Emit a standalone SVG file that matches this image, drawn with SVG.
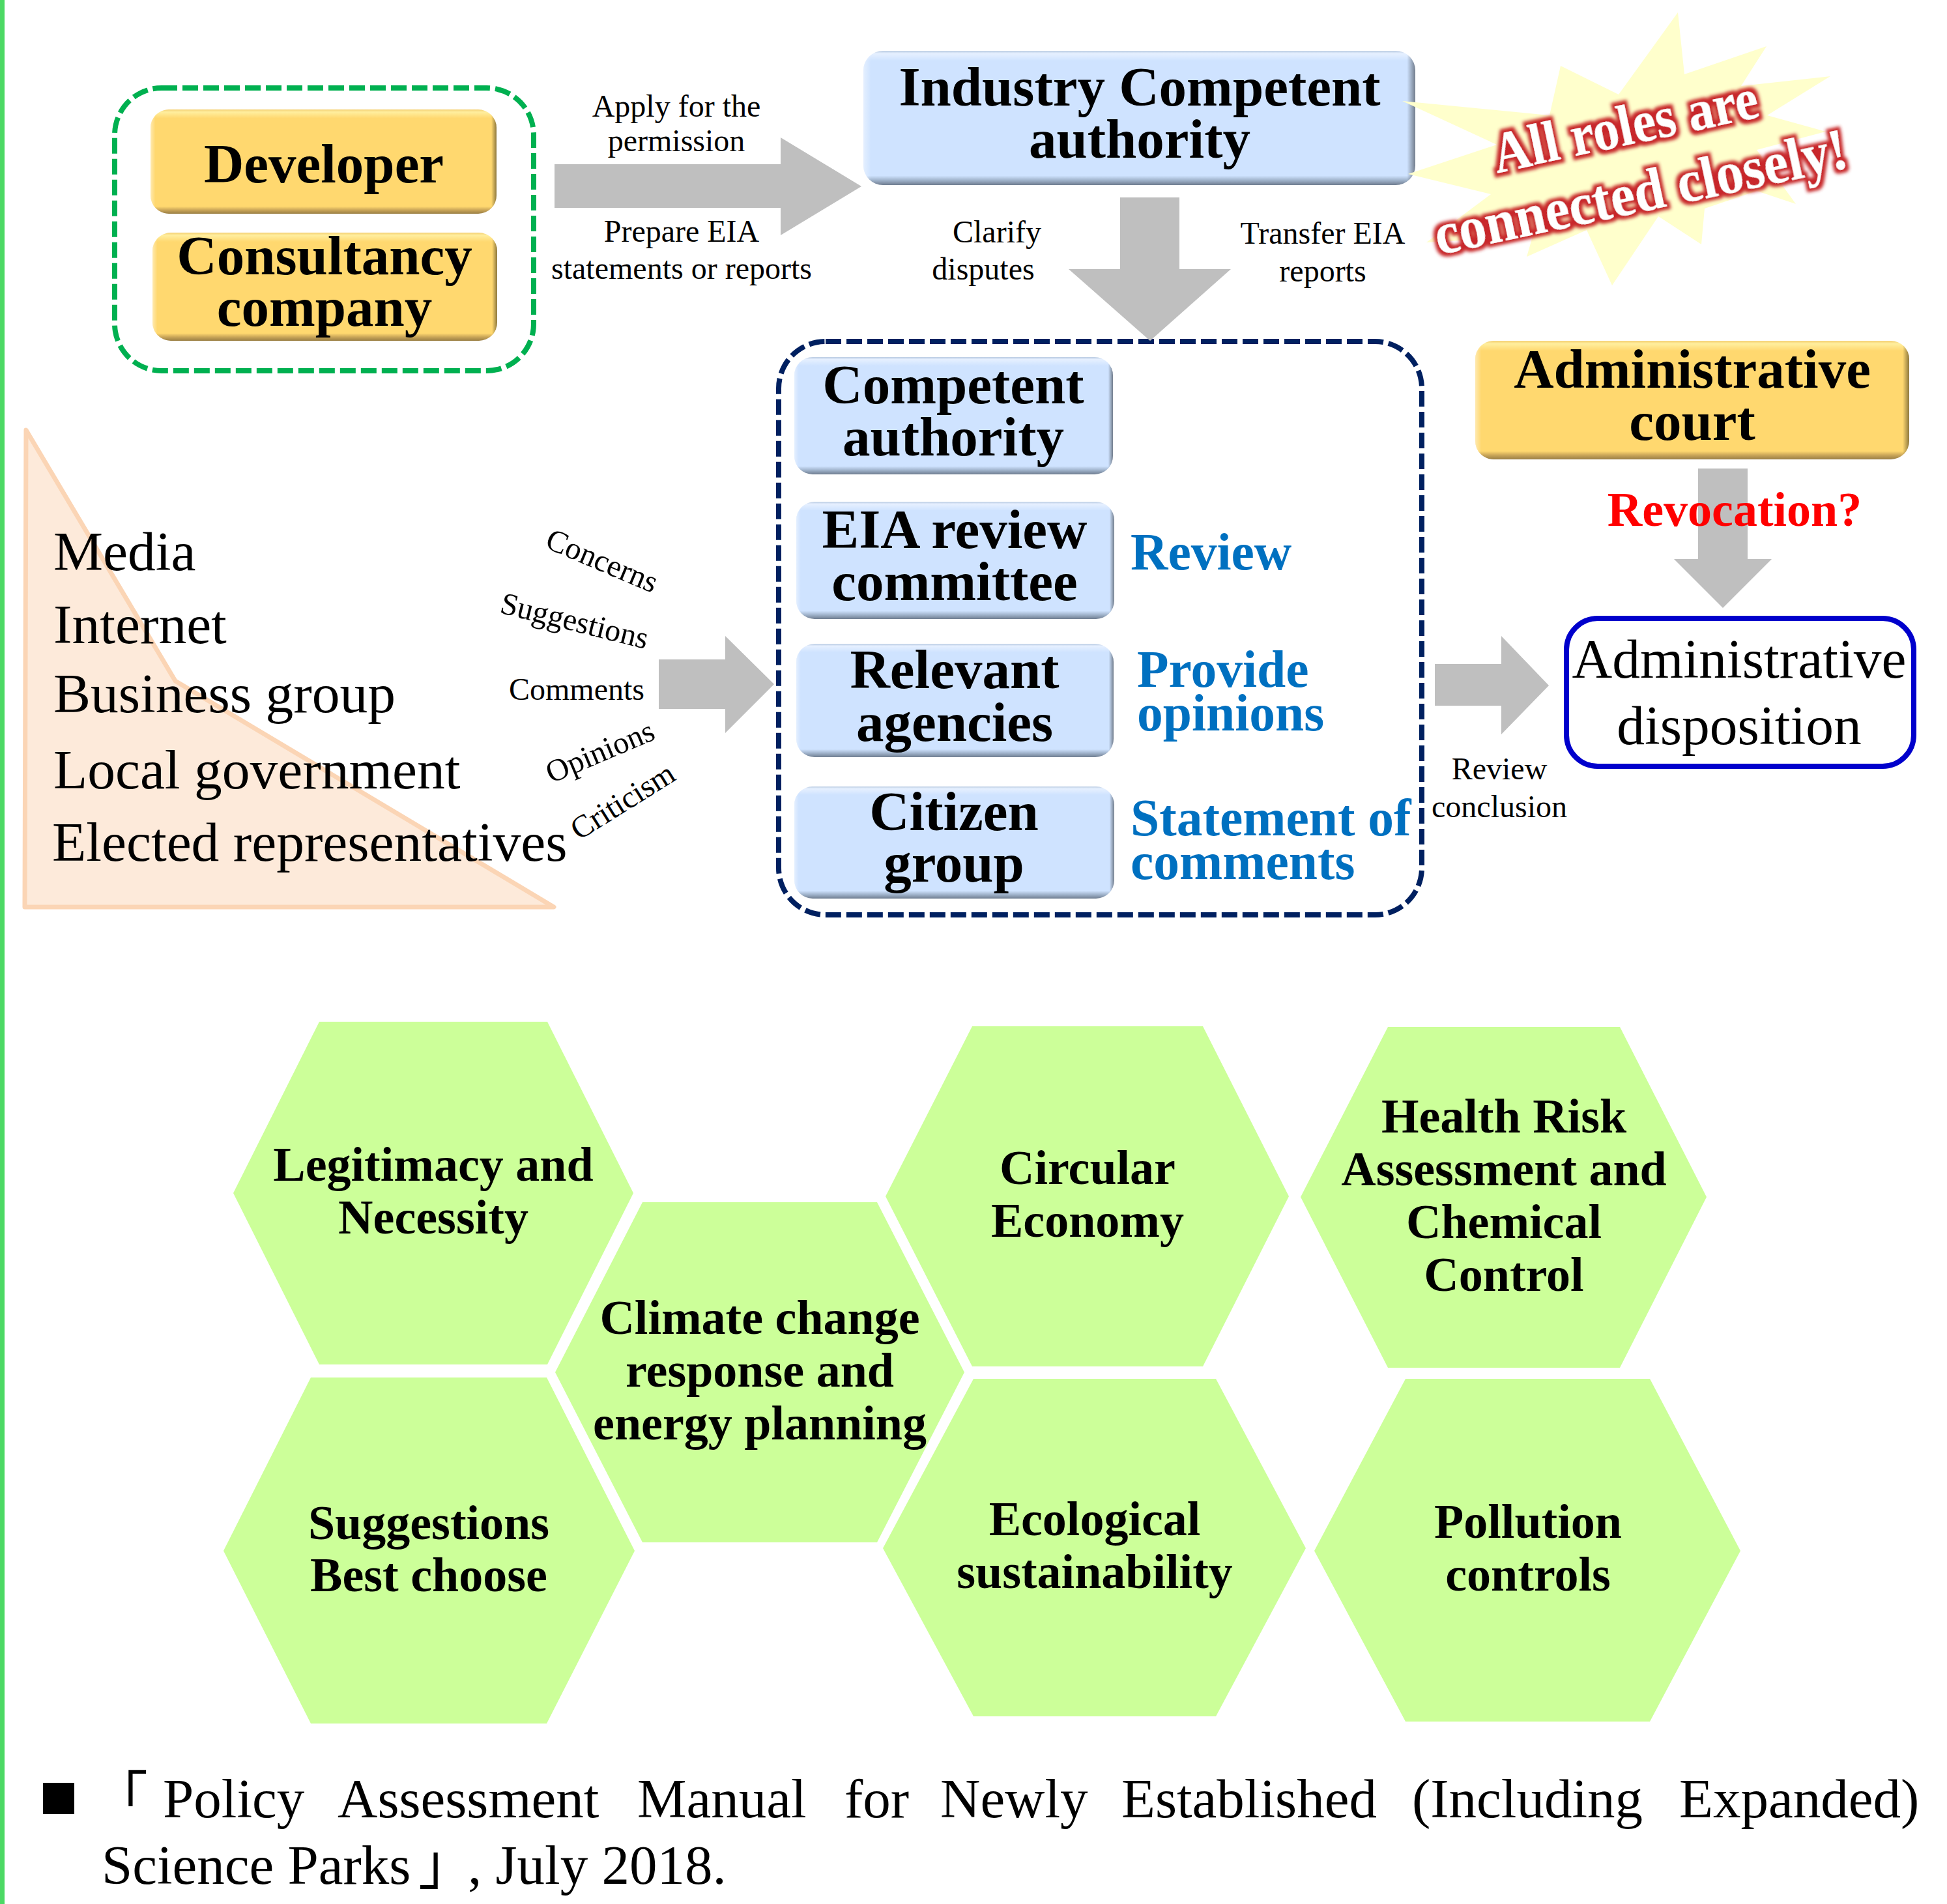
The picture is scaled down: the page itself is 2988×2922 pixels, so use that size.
<svg xmlns="http://www.w3.org/2000/svg" width="2988" height="2922" viewBox="0 0 2988 2922">
<style>
text{font-family:"Liberation Serif","Noto Sans CJK SC",serif;fill:#000}
.b{font-weight:700;font-size:85px;text-anchor:middle}
.hx{font-weight:700;font-size:74px;text-anchor:middle}
.s{font-size:48px;text-anchor:middle}
.m{font-size:85.5px}
.o{font-weight:700;font-size:79.5px;fill:#0070c0}
.arrow{fill:#bfbfbf}
.hex{fill:#ccff99}
.blue{fill:url(#gb)}
.gold{fill:url(#gg)}
.edge{fill:url(#ge)}
</style>
<defs>
<linearGradient id="gb" x1="0" y1="0" x2="0" y2="1">
<stop offset="0" stop-color="#b9cbe2"/><stop offset=".02" stop-color="#e6f0ff"/><stop offset=".075" stop-color="#cfe3ff"/><stop offset=".93" stop-color="#cfe3ff"/><stop offset=".965" stop-color="#9fb2ca"/><stop offset="1" stop-color="#6f7d90"/>
</linearGradient>
<linearGradient id="gg" x1="0" y1="0" x2="0" y2="1">
<stop offset="0" stop-color="#f4cf72"/><stop offset=".025" stop-color="#ffee9e"/><stop offset=".085" stop-color="#ffd86f"/><stop offset=".93" stop-color="#ffd86f"/><stop offset=".965" stop-color="#c9a558"/><stop offset="1" stop-color="#9a7f45"/>
</linearGradient>
<linearGradient id="ge" x1="0" y1="0" x2="1" y2="0">
<stop offset="0" stop-color="#fff" stop-opacity=".45"/><stop offset=".014" stop-color="#fff" stop-opacity="0"/><stop offset=".985" stop-color="#000" stop-opacity="0"/><stop offset="1" stop-color="#000" stop-opacity=".45"/>
</linearGradient>
<filter id="glow" x="-10%" y="-40%" width="120%" height="180%">
<feMorphology in="SourceAlpha" operator="dilate" radius="5" result="d"/>
<feGaussianBlur in="d" stdDeviation="2.5" result="bl"/>
<feFlood flood-color="#c8282a"/>
<feComposite in2="bl" operator="in" result="r"/>
<feMerge><feMergeNode in="r"/><feMergeNode in="SourceGraphic"/></feMerge>
</filter>
</defs>
<rect width="2988" height="2922" fill="#fff"/>
<rect x="0" y="0" width="7" height="2922" fill="#4cd964"/>

<g id="triangle-group">
<polygon points="40,660 269,1045 850,1392 38,1392" fill="#fdeada" stroke="#fbd5b5" stroke-width="7" stroke-linejoin="round"/>
<text class="m" x="82" y="875">Media</text>
<text class="m" x="82" y="987">Internet</text>
<text class="m" x="82" y="1093">Business group</text>
<text class="m" x="82" y="1210">Local government</text>
<text class="m" x="80" y="1321">Elected representatives</text>
</g>

<g id="feedback-labels">
<text class="s" transform="translate(918,875) rotate(23)">Concerns</text>
<text class="s" transform="translate(878,968) rotate(14)">Suggestions</text>
<text class="s" x="885" y="1074">Comments</text>
<text class="s" transform="translate(927,1168) rotate(-23)">Opinions</text>
<text class="s" transform="translate(964,1243) rotate(-32)">Criticism</text>
</g>

<g id="group-developer">
<rect x="176" y="135" width="643" height="434" rx="72" fill="none" stroke="#00b050" stroke-width="8" stroke-dasharray="24 8"/>
</g>
<g id="group-review">
<rect x="1195" y="524" width="987" height="880" rx="72" fill="none" stroke="#002060" stroke-width="8" stroke-dasharray="24 8"/>
</g>

<g id="connectors">
<polygon class="arrow" points="851,252 1198,252 1198,211 1322,286 1198,361 1198,319 851,319"/>
<polygon class="arrow" points="1719,303 1810,303 1810,413 1889,413 1765,523 1640,413 1719,413"/>
<polygon class="arrow" points="1011,1012 1113,1012 1113,976 1188,1050 1113,1125 1113,1088 1011,1088"/>
<polygon class="arrow" points="2202,1019 2304,1019 2304,976 2377,1052 2304,1127 2304,1083 2202,1083"/>
<polygon class="arrow" points="2606,719 2682,719 2682,858 2719,858 2644,933 2569,858 2606,858"/>
</g>

<g id="connector-labels">
<text class="s" x="1038" y="179">Apply for the</text>
<text class="s" x="1038" y="232">permission</text>
<text class="s" x="1046" y="371">Prepare EIA</text>
<text class="s" x="1046" y="428">statements or reports</text>
<text class="s" x="1530" y="372">Clarify</text>
<text class="s" x="1509" y="429">disputes</text>
<text class="s" x="2030" y="374">Transfer EIA</text>
<text class="s" x="2030" y="432">reports</text>
<text class="s" x="2301" y="1196">Review</text>
<text class="s" x="2301" y="1254">conclusion</text>
</g>

<g id="developer">
<rect class="gold" x="231" y="168" width="531" height="160" rx="28"/><rect class="edge" x="231" y="168" width="531" height="160" rx="28"/>
<text class="b" x="497" y="280">Developer</text>
</g>
<g id="consultancy">
<rect class="gold" x="234" y="357" width="529" height="166" rx="28"/><rect class="edge" x="234" y="357" width="529" height="166" rx="28"/>
<text class="b" x="498" y="421">Consultancy</text>
<text class="b" x="498" y="500">company</text>
</g>
<g id="industry">
<rect class="blue" x="1325" y="78" width="847" height="206" rx="30"/><rect class="edge" x="1325" y="78" width="847" height="206" rx="30"/>
<text class="b" x="1749" y="162">Industry Competent</text>
<text class="b" x="1749" y="242">authority</text>
</g>
<g id="starburst">
<polygon fill="#ffffcc" points="2152,155 2378,177 2395,101 2484,145 2575,19 2585,114 2711,71 2672,132 2809,117 2712,177 2802,202 2696,230 2756,313 2696,293 2616,320 2611,375 2545,332 2474,438 2435,353 2343,394 2352,363 2189,372 2288,298 2161,267 2297,222"/>
<text filter="url(#glow)" font-weight="700" font-size="80" text-anchor="middle" style="fill:#fff" transform="translate(2500,222) rotate(-12) scale(1,1.12)">All roles are</text>
<text filter="url(#glow)" font-weight="700" font-size="84" text-anchor="middle" style="fill:#fff" transform="translate(2524,324) rotate(-12) scale(1,1.08)">connected closely!</text>
</g>
<g id="competent">
<rect class="blue" x="1219" y="548" width="489" height="180" rx="28"/><rect class="edge" x="1219" y="548" width="489" height="180" rx="28"/>
<text class="b" x="1463" y="619">Competent</text>
<text class="b" x="1463" y="699">authority</text>
</g>
<g id="eia-committee">
<rect class="blue" x="1222" y="770" width="488" height="180" rx="28"/><rect class="edge" x="1222" y="770" width="488" height="180" rx="28"/>
<text class="b" x="1465" y="841">EIA review</text>
<text class="b" x="1465" y="921">committee</text>
</g>
<g id="relevant">
<rect class="blue" x="1222" y="988" width="487" height="174" rx="28"/><rect class="edge" x="1222" y="988" width="487" height="174" rx="28"/>
<text class="b" x="1465" y="1056">Relevant</text>
<text class="b" x="1465" y="1137">agencies</text>
</g>
<g id="citizen">
<rect class="blue" x="1219" y="1207" width="491" height="172" rx="28"/><rect class="edge" x="1219" y="1207" width="491" height="172" rx="28"/>
<text class="b" x="1464" y="1274">Citizen</text>
<text class="b" x="1464" y="1353">group</text>
</g>
<g id="role-labels">
<text class="o" x="1735" y="874">Review</text>
<text class="o" x="1745" y="1054">Provide</text>
<text class="o" x="1745" y="1121">opinions</text>
<text class="o" x="1735" y="1282">Statement of</text>
<text class="o" x="1735" y="1349">comments</text>
</g>
<g id="court">
<rect class="gold" x="2264" y="523" width="666" height="182" rx="28"/><rect class="edge" x="2264" y="523" width="666" height="182" rx="28"/>
<text class="b" x="2597" y="595">Administrative</text>
<text class="b" x="2597" y="675">court</text>
</g>
<text id="revocation" font-weight="700" font-size="74" text-anchor="middle" style="fill:#f00" x="2662" y="807">Revocation?</text>
<g id="disposition">
<rect x="2404" y="949" width="533" height="227" rx="48" fill="#fff" stroke="#0000cc" stroke-width="8"/>
<text class="m" text-anchor="middle" x="2669" y="1040">Administrative</text>
<text class="m" text-anchor="middle" x="2669" y="1142">disposition</text>
</g>

<g id="hex-legitimacy"><polygon class="hex" points="490,1568 840,1568 972,1831 840,2094 490,2094 358,1831"/>
<text class="hx" x="665" y="1812">Legitimacy and</text><text class="hx" x="665" y="1893">Necessity</text></g>
<g id="hex-climate"><polygon class="hex" points="986,1845 1346,1845 1480,2106 1346,2367 986,2367 852,2106"/>
<text class="hx" x="1166" y="2047">Climate change</text><text class="hx" x="1166" y="2128">response and</text><text class="hx" x="1166" y="2209">energy planning</text></g>
<g id="hex-suggestions"><polygon class="hex" points="477,2114 839,2114 974,2380 839,2645 477,2645 343,2380"/>
<text class="hx" x="658" y="2362">Suggestions</text><text class="hx" x="658" y="2442">Best choose</text></g>
<g id="hex-circular"><polygon class="hex" points="1492,1575 1846,1575 1978,1836 1846,2097 1492,2097 1359,1836"/>
<text class="hx" x="1669" y="1817">Circular</text><text class="hx" x="1669" y="1898">Economy</text></g>
<g id="hex-health"><polygon class="hex" points="2130,1576 2486,1576 2619,1837 2486,2099 2130,2099 1996,1837"/>
<text class="hx" x="2308" y="1738">Health Risk</text><text class="hx" x="2308" y="1819">Assessment and</text><text class="hx" x="2308" y="1900">Chemical</text><text class="hx" x="2308" y="1981">Control</text></g>
<g id="hex-ecological"><polygon class="hex" points="1494,2116 1866,2116 2004,2376 1866,2634 1494,2634 1355,2376"/>
<text class="hx" x="1680" y="2356">Ecological</text><text class="hx" x="1680" y="2437">sustainability</text></g>
<g id="hex-pollution"><polygon class="hex" points="2157,2116 2532,2116 2671,2380 2532,2642 2157,2642 2017,2380"/>
<text class="hx" x="2345" y="2360">Pollution</text><text class="hx" x="2345" y="2441">controls</text></g>

<g id="source-note">
<text font-size="60" style="font-family:'Noto Sans CJK SC',sans-serif" x="60" y="2783">■</text>
<text font-size="85"><tspan x="142" y="2789">「</tspan><tspan x="250">Policy</tspan><tspan x="518">Assessment</tspan><tspan x="978">Manual</tspan><tspan x="1296">for</tspan><tspan x="1443">Newly</tspan><tspan x="1721">Established</tspan><tspan x="2167">(Including</tspan><tspan x="2577">Expanded)</tspan></text>
<text font-size="85"><tspan x="156" y="2891">Science Parks</tspan><tspan x="642">」</tspan><tspan x="718">, July 2018.</tspan></text>
</g>
</svg>
